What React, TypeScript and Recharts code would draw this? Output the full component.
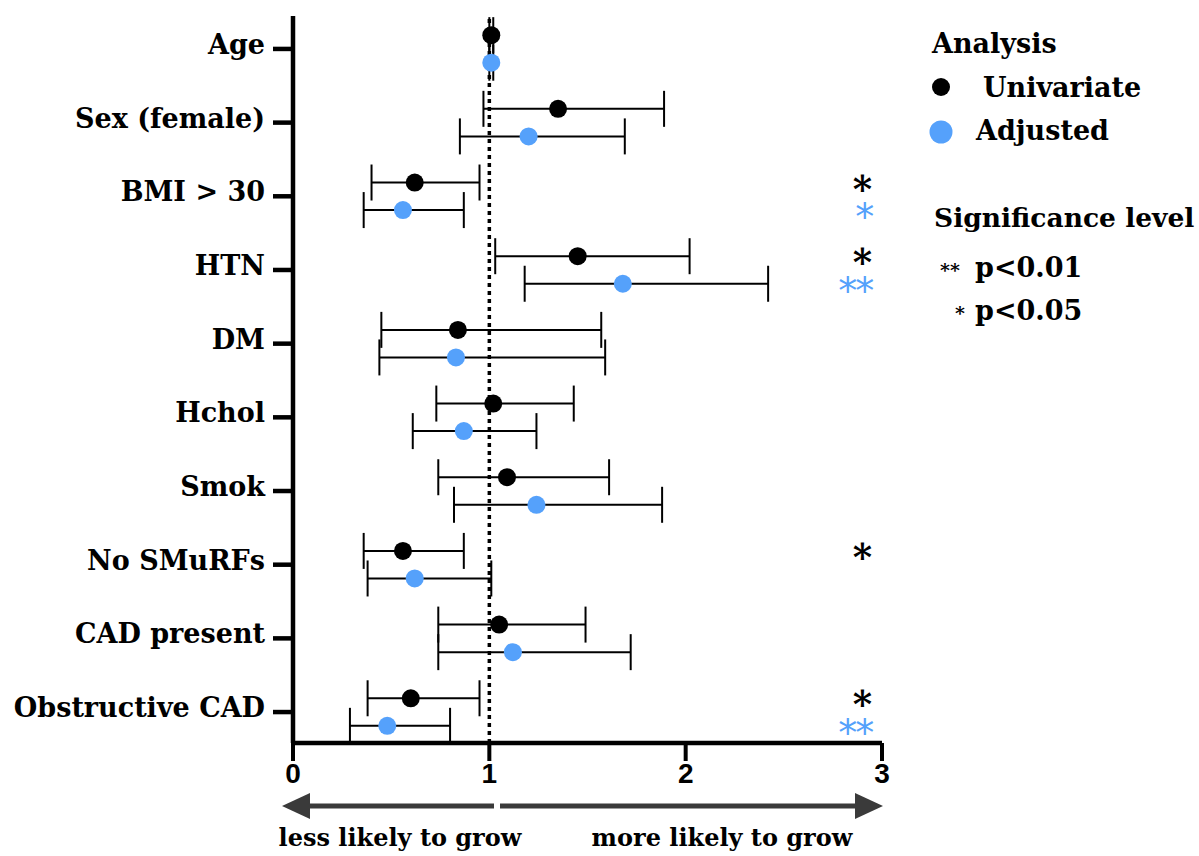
import React from 'react';
import {
  ScatterChart,
  Scatter,
  XAxis,
  YAxis,
  ErrorBar,
  ReferenceLine,
} from 'recharts';

const categories = [
  'Age',
  'Sex (female)',
  'BMI > 30',
  'HTN',
  'DM',
  'Hchol',
  'Smok',
  'No SMuRFs',
  'CAD present',
  'Obstructive CAD',
];

// odds ratios with 95% CI
const uniOR = [1.01, 1.35, 0.62, 1.45, 0.84, 1.02, 1.09, 0.56, 1.05, 0.6];
const uniLo = [1.0, 0.97, 0.4, 1.03, 0.45, 0.73, 0.74, 0.36, 0.74, 0.38];
const uniHi = [1.02, 1.89, 0.95, 2.02, 1.57, 1.43, 1.61, 0.87, 1.49, 0.95];

const adjOR = [1.01, 1.2, 0.56, 1.68, 0.83, 0.87, 1.24, 0.62, 1.12, 0.48];
const adjLo = [1.0, 0.85, 0.36, 1.18, 0.44, 0.61, 0.82, 0.38, 0.74, 0.29];
const adjHi = [1.02, 1.69, 0.87, 2.42, 1.59, 1.24, 1.88, 1.01, 1.72, 0.8];

const uniSig = ['', '', '*', '*', '', '', '', '*', '', '*'];
const adjSig = ['', '', '*', '**', '', '', '', '', '', '**'];

const xTicks = [0, 1, 2, 3];

const BLACK = '#000000';
const BLUE = '#55a1fb';
const SERIF = '"DejaVu Serif", "Liberation Serif", serif';
const OFFSET = 0.187;
const SIG_X = 2.95;

const uniData = categories.map((c, i) => ({
  name: c,
  x: uniOR[i],
  y: i - OFFSET,
  err: [uniOR[i] - uniLo[i], uniHi[i] - uniOR[i]],
}));

const adjData = categories.map((c, i) => ({
  name: c,
  x: adjOR[i],
  y: i + OFFSET,
  err: [adjOR[i] - adjLo[i], adjHi[i] - adjOR[i]],
}));

const sigData = [
  ...uniSig.map((s, i) => ({ x: SIG_X, y: i - OFFSET, sig: s, color: BLACK })),
  ...adjSig.map((s, i) => ({ x: SIG_X, y: i + OFFSET, sig: s, color: BLUE })),
].filter((d) => d.sig !== '');

const YTick = (props: any) => {
  const { x, y, payload } = props;
  return (
    <text
      x={x}
      y={y}
      dy={5}
      textAnchor="end"
      fill="#000"
      fontFamily={SERIF}
      fontWeight={700}
      fontSize={27}
    >
      {categories[payload.value]}
    </text>
  );
};

const XTick = (props: any) => {
  const { x, y, payload } = props;
  return (
    <text
      x={x}
      y={y}
      dy={20}
      textAnchor="middle"
      fill="#000"
      fontFamily='"Liberation Sans Narrow", "Liberation Sans", sans-serif'
      fontWeight={700}
      fontSize={28}
    >
      {payload.value}
    </text>
  );
};

const dot = (color: string) => (props: any) => (
  <circle cx={props.cx} cy={props.cy} r={9} fill={color} />
);

const SigMark = (props: any) => {
  const { cx, cy, payload } = props;
  const isBlue = payload.color === BLUE;
  return (
    <text
      x={cx}
      y={cy}
      dy={isBlue ? 20 : 19}
      textAnchor="end"
      fill={payload.color}
      fontFamily={isBlue ? '"DejaVu Sans", sans-serif' : SERIF}
      fontWeight={isBlue ? 400 : 700}
      fontSize={isBlue ? 38 : 37}
      letterSpacing={isBlue ? -2 : 0}
    >
      {payload.sig}
    </text>
  );
};

const textStyle = {
  fontFamily: SERIF,
  fontWeight: 700,
  fill: '#000',
} as const;

export default function App() {
  return (
    <div style={{ position: 'absolute', left: 0, top: 0, width: 1199, height: 856, background: '#fff' }}>
      <ScatterChart
        width={1199}
        height={856}
        margin={{ top: 16, right: 317, bottom: 73, left: 0 }}
      >
        <XAxis
          type="number"
          dataKey="x"
          domain={[0, 3]}
          ticks={xTicks}
          allowDataOverflow
          height={40}
          tickSize={18}
          tickMargin={2}
          axisLine={{ stroke: '#000', strokeWidth: 4.5 }}
          tickLine={{ stroke: '#000', strokeWidth: 4 }}
          tick={<XTick />}
        />
        <YAxis
          type="number"
          dataKey="y"
          domain={[-0.447, 9.42]}
          ticks={categories.map((_, i) => i)}
          reversed
          width={293}
          tickSize={20}
          tickMargin={8}
          axisLine={{ stroke: '#000', strokeWidth: 4.5 }}
          tickLine={{ stroke: '#000', strokeWidth: 4.5 }}
          tick={<YTick />}
          interval={0}
        />
        <ReferenceLine
          x={1}
          stroke="#000"
          strokeWidth={3.5}
          strokeDasharray="4 4"
          ifOverflow="visible"
        />
        <Scatter data={uniData} shape={dot(BLACK)} isAnimationActive={false}>
          <ErrorBar dataKey="err" direction="x" width={18} stroke="#000" strokeWidth={2} />
        </Scatter>
        <Scatter data={adjData} shape={dot(BLUE)} isAnimationActive={false}>
          <ErrorBar dataKey="err" direction="x" width={18} stroke="#000" strokeWidth={2} />
        </Scatter>
        <Scatter data={sigData} shape={<SigMark />} isAnimationActive={false} />
      </ScatterChart>

      <svg
        width={1199}
        height={856}
        style={{ position: 'absolute', left: 0, top: 0, pointerEvents: 'none' }}
      >
        {/* legend */}
        <text x={932} y={53} fontSize={27} {...textStyle}>Analysis</text>
        <circle cx={941} cy={87} r={9} fill={BLACK} />
        <text x={983} y={97} fontSize={27} {...textStyle}>Univariate</text>
        <circle cx={941} cy={132} r={11.5} fill={BLUE} />
        <text x={976} y={140} fontSize={27} {...textStyle}>Adjusted</text>
        <text x={934} y={227} fontSize={26.5} {...textStyle}>Significance level</text>
        <text x={940} y={277} fontSize={19} {...textStyle}>**</text>
        <text x={975} y={277} fontSize={27} {...textStyle}>p&lt;0.01</text>
        <text x={955} y={320} fontSize={19} {...textStyle}>*</text>
        <text x={975} y={320} fontSize={27} {...textStyle}>p&lt;0.05</text>

        {/* direction arrows */}
        <line x1={305} y1={806} x2={494} y2={806} stroke="#3a3a3a" strokeWidth={5} />
        <polygon points="282,806 310,793 310,819" fill="#3a3a3a" />
        <line x1={500} y1={806} x2={860} y2={806} stroke="#3a3a3a" strokeWidth={5} />
        <polygon points="883,806 855,793 855,819" fill="#3a3a3a" />
        <text x={400} y={846} fontSize={24} textAnchor="middle" {...textStyle}>less likely to grow</text>
        <text x={722} y={846} fontSize={24} textAnchor="middle" {...textStyle}>more likely to grow</text>
      </svg>
    </div>
  );
}
